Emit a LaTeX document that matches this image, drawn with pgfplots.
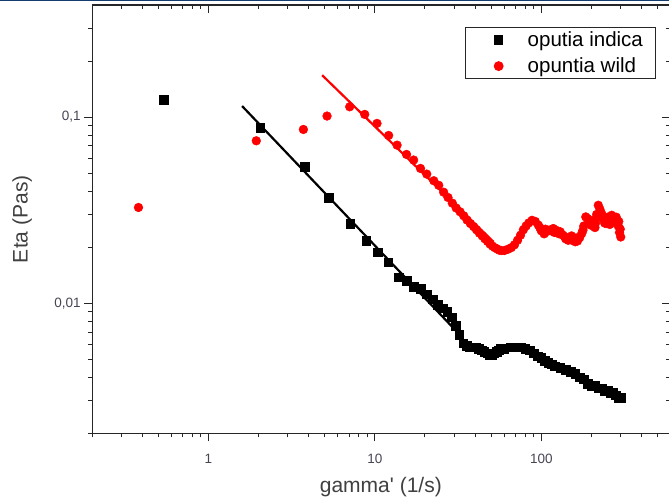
\documentclass[border=0pt]{standalone}
\usepackage{pgfplots}
\pgfplotsset{compat=1.18}
\usepackage{pgfplotstable}
\usepackage{fontspec}
\setmainfont{Liberation Sans}[Ligatures=TeXOff]
\usetikzlibrary{calc}
\definecolor{ticklab}{RGB}{70,70,85}
\definecolor{labcol}{RGB}{64,64,64}
\definecolor{topbar}{RGB}{20,60,110}

\pgfplotstableread{
x y
0.54 0.124
2.05 0.088
3.8 0.054
5.3 0.037
7.1 0.0268
8.85 0.0216
10.4 0.0188
12.0 0.0166
13.9 0.0138
15.5 0.0132
17.1 0.0123
18.8 0.0120
20.5 0.0112
22.2 0.0105
23.9 0.0098
25.5 0.0094
27.2 0.0090
28.9 0.0084
30.5 0.0076
32.2 0.0068
33.9 0.0061
35.5 0.0059
37.2 0.0058
38.9 0.0058
40.5 0.0058
42.2 0.0057
43.9 0.0056
45.5 0.0055
47.2 0.0054
48.9 0.0053
50.5 0.0053
52.2 0.0054
53.9 0.0055
55.5 0.0056
57.2 0.0057
60 0.0057
65 0.0058
70 0.0058
75 0.0058
80 0.0057
85 0.0056
90 0.0054
95 0.0052
100 0.0051
105 0.0049
110 0.0048
115 0.0047
120 0.0046
130 0.0045
140 0.0044
150 0.0043
160 0.0042
170 0.0040
180 0.0039
190 0.0037
200 0.0036
210 0.0036
220 0.0035
230 0.0035
240 0.0034
250 0.0034
260 0.0033
270 0.0033
280 0.0032
290 0.0031
300 0.0031
}\indica

\pgfplotstableread{
x y
0.38 0.0327
1.94 0.0746
3.72 0.0858
5.16 0.1013
7.06 0.1136
8.69 0.1034
10.3 0.0925
12.1 0.0797
13.6 0.0707
15.5 0.063
17.1 0.0588
18.8 0.053
20.5 0.0494
22.6 0.0455
24.2 0.0430
25.9 0.0395
27.5 0.0370
29.2 0.0345
30.8 0.0325
32.5 0.0310
34.2 0.0295
35.8 0.0280
37.5 0.0268
39.2 0.0258
40.8 0.0248
42.5 0.0238
44.2 0.0230
45.8 0.0222
47.5 0.0215
49.2 0.0208
50.8 0.0203
52.5 0.0199
54.2 0.0196
55.8 0.0193
57.5 0.0192
60 0.0192
63 0.0195
66 0.0199
69 0.0206
72 0.0218
75 0.0232
78 0.0248
81 0.0260
84 0.0270
88 0.0279
92 0.0275
96 0.0263
100 0.0245
104 0.0236
108 0.0243
112 0.0247
116 0.0244
120 0.0240
125 0.0245
130 0.0242
135 0.0232
140 0.0222
145 0.0218
150 0.0222
155 0.0217
160 0.0214
165 0.0216
170 0.0225
175 0.0237
180 0.0260
185 0.0291
190 0.0285
195 0.0270
200 0.0262
205 0.0279
210 0.0255
215 0.0300
220 0.0336
225 0.0320
230 0.0304
235 0.0285
240 0.0270
245 0.0268
250 0.0290
255 0.0275
260 0.0285
265 0.0297
270 0.0290
275 0.0285
280 0.0275
285 0.0268
290 0.0260
295 0.0240
300 0.0227
98 0.0255
106 0.0250
118 0.0252
128 0.0236
138 0.0228
152 0.0230
162 0.0224
178 0.0247
198 0.0276
212 0.0270
228 0.0292
242 0.0282
258 0.0265
268 0.0275
282 0.0290
292 0.0275
298 0.0250
}\wild

\begin{document}
\begin{tikzpicture}
\begin{axis}[
  scale only axis, width=577pt, height=428pt,
  xmode=log, ymode=log,
  xmin=0.2, xmax=590, ymin=0.002, ymax=0.4,
  axis line style={line width=1.1pt, color=black!85},
  tick align=outside, xtick pos=left, ytick pos=left,
  major tick length=8pt, minor tick length=4pt,
  every tick/.style={line width=1pt, color=black!85},
  xtick={1,10,100}, xticklabels={1,10,100},
  minor xtick={0.2,0.3,0.4,0.5,0.6,0.7,0.8,0.9,2,3,4,5,6,7,8,9,20,30,40,50,60,70,80,90,200,300,400,500},
  ytick={0.01,0.1}, yticklabels={{0,01},{0,1}},
  minor ytick={0.002,0.003,0.004,0.005,0.006,0.007,0.008,0.009,0.02,0.03,0.04,0.05,0.06,0.07,0.08,0.09,0.2,0.3},
  /pgf/number format/assume math mode=true,
  tick label style={font=\fontsize{13.5}{15}\selectfont, color=ticklab},
  xticklabel style={yshift=-9pt},
  xlabel={gamma' (1/s)}, ylabel={Eta (Pas)},
  label style={font=\fontsize{21}{25}\selectfont, color=labcol},
  xlabel style={at={(axis description cs:0.5,-0.126)}, anchor=center},
  ylabel style={at={(axis description cs:-0.121,0.5)}, anchor=center},
  legend cell align=left,
  legend image code/.code={\path[draw=none,fill=none] (0pt,-6pt) rectangle (49pt,6pt); \draw[only marks,#1] plot coordinates {(22pt,0pt)};},
  legend style={at={(rel axis cs:0.646,0.9486)}, anchor=north west, draw=black!85, line width=1pt,
     font=\fontsize{20.5}{23}\selectfont, inner xsep=11pt, inner ysep=2pt, row sep=6pt},
]
\addplot[only marks, mark=square*, mark size=4.3pt, black] table[x=x,y=y] {\indica};
\addlegendentry{oputia indica}
\addplot[only marks, mark=*, mark size=4.4pt, red] table[x=x,y=y] {\wild};
\addlegendentry{opuntia wild}
\addplot[black, line width=2.2pt, forget plot] coordinates {(1.594,0.1146) (31.2,0.00701)};
\addplot[red, line width=2.2pt, forget plot] coordinates {(4.82,0.168) (51.7,0.02136)};
\coordinate (BL) at (rel axis cs:0,0);
\coordinate (TR) at (rel axis cs:1,1);
\end{axis}
\begin{axis}[
  scale only axis, width=577pt, height=428pt,
  xmode=log, ymode=log,
  xmin=0.2, xmax=590, ymin=0.002, ymax=0.4,
  axis line style={line width=1.1pt, color=black!85},
  tick align=inside, xtick pos=right, ytick pos=right,
  major tick length=8pt, minor tick length=4pt,
  every tick/.style={line width=1pt, color=black!85},
  xtick={1,10,100}, xticklabel={\mbox{}},
  minor xtick={0.2,0.3,0.4,0.5,0.6,0.7,0.8,0.9,2,3,4,5,6,7,8,9,20,30,40,50,60,70,80,90,200,300,400,500},
  ytick={0.01,0.1}, yticklabel={\mbox{}},
  minor ytick={0.002,0.003,0.004,0.005,0.006,0.007,0.008,0.009,0.02,0.03,0.04,0.05,0.06,0.07,0.08,0.09,0.2,0.3},
]
\end{axis}
\fill[topbar] ($(BL|-TR)+(-92pt,5pt)$) rectangle ($(TR)+(0pt,3.6pt)$);
\pgfresetboundingbox
\path[use as bounding box] ($(BL)+(-92pt,-65pt)$) rectangle ($(TR)+(-0.6pt,5pt)$);
\end{tikzpicture}
\end{document}
